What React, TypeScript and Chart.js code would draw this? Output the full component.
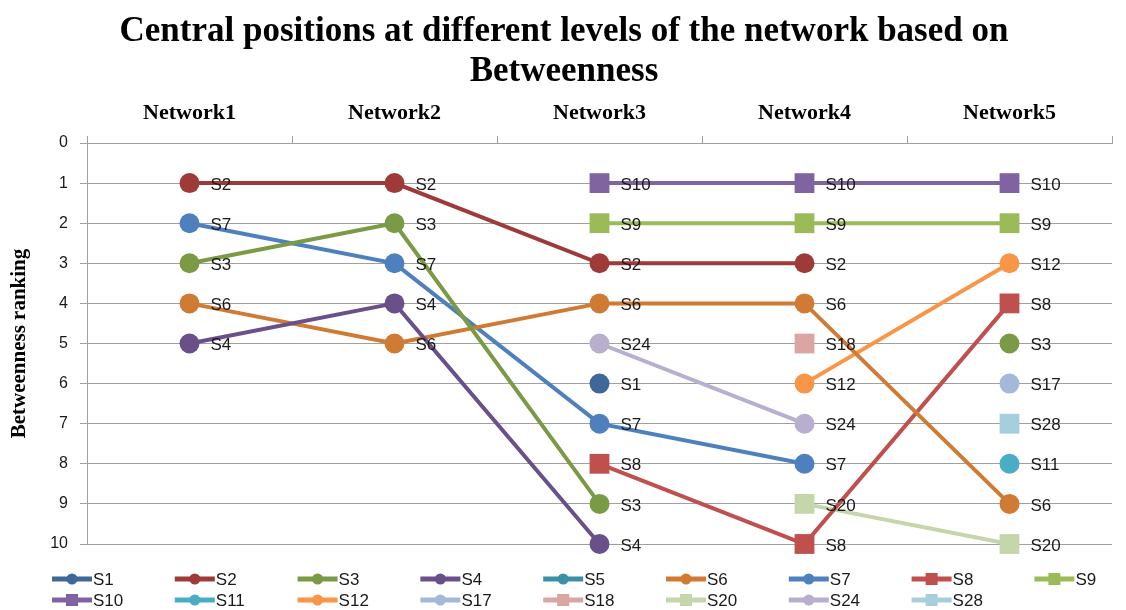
import React, { useEffect, useRef } from "react";
import { Chart, registerables } from "chart.js";

Chart.register(...registerables);

const categories = ["Network1", "Network2", "Network3", "Network4", "Network5"];
const yTicks = [0, 1, 2, 3, 4, 5, 6, 7, 8, 9, 10];
const titleLines = ["Central positions at different levels of the network based on", "Betweenness"];
const yTitle = "Betweenness ranking";

const seriesNames = ["S1", "S2", "S3", "S4", "S5", "S6", "S7", "S8", "S9", "S10", "S11", "S12", "S17", "S18", "S20", "S24", "S28"];

const s1 = [null, null, 6, null, null];
const s2 = [1, 1, 3, 3, null];
const s3 = [3, 2, 9, null, 5];
const s4 = [5, 4, 10, null, null];
const s5 = [null, null, null, null, null];
const s6 = [4, 5, 4, 4, 9];
const s7 = [2, 3, 7, 8, null];
const s8 = [null, null, 8, 10, 4];
const s9 = [null, null, 2, 2, 2];
const s10 = [null, null, 1, 1, 1];
const s11 = [null, null, null, null, 8];
const s12 = [null, null, null, 6, 3];
const s17 = [null, null, null, null, 6];
const s18 = [null, null, null, 5, null];
const s20 = [null, null, null, 9, 10];
const s24 = [null, null, 5, 7, null];
const s28 = [null, null, null, null, 7];

const seriesValues = [s1, s2, s3, s4, s5, s6, s7, s8, s9, s10, s11, s12, s17, s18, s20, s24, s28];

const seriesColors = [
  "#3F6797", "#9E3B39", "#7B9A45", "#69508B", "#3A90A4", "#D07B34", "#4E80BD", "#C0504D", "#9BBB59",
  "#8064A2", "#4BACC6", "#F79646", "#A6B8DA", "#DBA5A4", "#C4D6AA", "#B8AECE", "#A6CEDC",
];
const seriesShapes = [
  "circle", "circle", "circle", "circle", "circle", "circle", "circle", "rect", "rect",
  "rect", "circle", "circle", "circle", "rect", "rect", "circle", "rect",
];

const LABEL_FONT = "17px 'Liberation Sans', Arial, sans-serif";

const overlayPlugin = {
  id: "overlay",
  afterDatasetsDraw(chart: any) {
    const ctx = chart.ctx;
    ctx.save();
    ctx.font = LABEL_FONT;
    ctx.fillStyle = "#1a1a1a";
    ctx.textBaseline = "middle";
    ctx.textAlign = "left";
    chart.data.datasets.forEach((ds: any, di: number) => {
      const meta = chart.getDatasetMeta(di);
      meta.data.forEach((pt: any, i: number) => {
        if (ds.data[i] === null || ds.data[i] === undefined) return;
        ctx.fillText(ds.label, pt.x + 21, pt.y + 2);
      });
    });
    ctx.restore();
  },
  afterDraw(chart: any) {
    const ctx = chart.ctx;
    ctx.save();
    // title
    ctx.font = "bold 35px 'Liberation Serif', 'Times New Roman', serif";
    ctx.fillStyle = "#000";
    ctx.textAlign = "center";
    ctx.textBaseline = "middle";
    titleLines.forEach((t, i) => ctx.fillText(t, 564, 32 + i * 40));
    // legend
    const perRow = 9;
    chart.data.datasets.forEach((ds: any, di: number) => {
      const row = Math.floor(di / perRow);
      const col = di % perRow;
      const x0 = 52 + col * 122.8;
      const y = 579 + row * 21;
      ctx.strokeStyle = ds.borderColor;
      ctx.lineWidth = 5;
      ctx.beginPath();
      ctx.moveTo(x0, y);
      ctx.lineTo(x0 + 40, y);
      ctx.stroke();
      ctx.fillStyle = ds.borderColor;
      if (ds.pointStyle === "rect") {
        ctx.fillRect(x0 + 14, y - 6, 12, 12);
      } else {
        ctx.beginPath();
        ctx.arc(x0 + 20, y, 5.5, 0, Math.PI * 2);
        ctx.fill();
      }
      ctx.fillStyle = "#1a1a1a";
      ctx.font = LABEL_FONT;
      ctx.textAlign = "left";
      ctx.fillText(ds.label, x0 + 41, y + 1);
    });
    ctx.restore();
  },
};

export default function App() {
  const ref = useRef<HTMLCanvasElement | null>(null);
  useEffect(() => {
    if (!ref.current) return;
    const datasets = seriesNames.map((name, i) => ({
      label: name,
      data: seriesValues[i],
      borderColor: seriesColors[i],
      backgroundColor: seriesColors[i],
      pointBackgroundColor: seriesColors[i],
      pointBorderColor: seriesColors[i],
      pointStyle: seriesShapes[i],
      pointRadius: seriesShapes[i] === "rect" ? 14 : 10,
      pointBorderWidth: 0,
      borderWidth: 4,
      spanGaps: false,
      tension: 0,
      clip: false,
    }));
    const chart = new Chart(ref.current, {
      type: "line",
      data: { labels: categories, datasets },
      plugins: [overlayPlugin],
      options: {
        animation: false,
        responsive: false,
        devicePixelRatio: 1,
        layout: { padding: { top: 99, bottom: 66, left: 7, right: 14 } },
        plugins: {
          legend: { display: false },
          title: { display: false },
          tooltip: { enabled: false },
        },
        scales: {
          x: {
            position: "top",
            offset: true,
            grid: { display: true, drawOnChartArea: false, drawTicks: true, tickLength: 7, color: "#A0A0A0", offset: true },
            border: { display: true, color: "#A0A0A0", width: 1 },
            ticks: {
              padding: 9,
              color: "#000",
              font: { family: "'Liberation Serif', 'Times New Roman', serif", size: 22, weight: "bold" },
            },
            afterFit: (s: any) => { s.height = 44; },
          },
          y: {
            reverse: true,
            min: 0,
            max: 10,
            afterBuildTicks: (s: any) => { s.ticks = yTicks.map((v) => ({ value: v })); },
            grid: { color: "#A0A0A0", lineWidth: 1, drawTicks: true, tickLength: 7 },
            border: { display: true, color: "#A0A0A0", width: 1 },
            ticks: {
              padding: 12,
              color: "#1a1a1a",
              font: { family: "'Liberation Sans', Arial, sans-serif", size: 16 },
            },
            title: {
              display: true,
              text: yTitle,
              color: "#000",
              padding: { top: 0, bottom: 0 },
              font: { family: "'Liberation Serif', 'Times New Roman', serif", size: 21, weight: "bold" },
            },
            afterFit: (s: any) => { s.width = 80; },
          },
        },
      },
    } as any);
    return () => chart.destroy();
  }, []);
  return (
    <div style={{ position: "fixed", left: 0, top: 0, width: 1126, height: 610, background: "#fff" }}>
      <canvas ref={ref} width={1126} height={610} style={{ display: "block" }} />
    </div>
  );
}
